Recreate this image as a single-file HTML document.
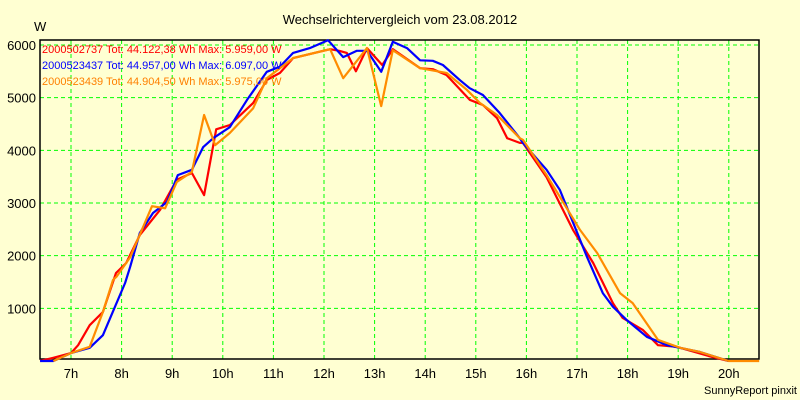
<!DOCTYPE html>
<html><head><meta charset="utf-8"><style>
body{margin:0;background:#ffffd2;}
svg{display:block;font-family:"Liberation Sans",sans-serif;}
</style></head><body>
<svg id="c" width="800" height="400">
<rect x="0" y="0" width="800" height="400" fill="#ffffd2"/>
<text x="400" y="24" text-anchor="middle" font-size="13">Wechselrichtervergleich vom 23.08.2012</text>
<text x="34" y="31" font-size="13">W</text>
<text x="797" y="394" text-anchor="end" font-size="11">SunnyReport pinxit</text>
<g id="grid"></g>
<g id="axes"></g>
<g id="series"></g>
<g id="legend"></g>
</svg>
<script>
const hourTicks=[7,8,9,10,11,12,13,14,15,16,17,18,19,20];
const valueTicks=[1000,2000,3000,4000,5000,6000];
const redTimes=[6.39,6.65,7.0,7.14,7.37,7.63,7.89,8.09,8.36,8.76,9.09,9.39,9.63,9.87,10.14,10.6,10.87,11.13,11.39,12.12,12.3,12.45,12.63,12.85,13.15,13.36,13.9,14.15,14.42,14.88,15.14,15.42,15.62,15.87,15.93,16.4,16.92,17.32,17.71,17.9,18.3,18.6,18.97,19.6,20.0];
const redValues=[0,60,150,300,680,930,1670,1860,2390,2870,3440,3570,3150,4400,4480,4900,5335,5470,5750,5920,5890,5850,5500,5940,5620,5920,5560,5540,5430,4960,4860,4610,4230,4140,4140,3490,2490,1860,1100,820,590,300,270,95,0];
const blueTimes=[6.39,6.65,7.0,7.37,7.63,7.87,8.07,8.17,8.36,8.62,8.9,9.11,9.39,9.61,9.81,10.14,10.48,10.87,11.13,11.39,11.72,12.08,12.38,12.65,12.85,13.13,13.36,13.64,13.9,14.15,14.35,14.69,14.88,15.14,15.47,15.87,15.93,16.4,16.66,17.2,17.51,17.71,17.98,18.38,18.78,19.43,20.0];
const blueValues=[0,0,150,250,490,1030,1480,1790,2430,2810,3020,3530,3630,4060,4230,4440,4960,5490,5590,5850,5940,6090,5770,5890,5890,5490,6060,5940,5710,5700,5620,5330,5180,5050,4710,4230,4140,3630,3250,1970,1290,1030,780,460,300,170,0];
const orangeTimes=[6.65,7.0,7.37,7.63,7.83,7.9,8.17,8.6,8.86,9.09,9.39,9.63,9.85,10.14,10.6,10.87,11.39,12.12,12.38,12.85,13.13,13.36,13.9,14.42,14.82,15.08,15.42,15.87,15.93,16.4,17.06,17.4,17.85,18.1,18.6,19.04,19.43,20.0,20.6];
const orangeValues=[0,150,270,930,1540,1600,1970,2940,2900,3400,3590,4670,4100,4330,4800,5370,5750,5920,5370,5940,4840,5900,5560,5470,5150,4900,4670,4230,4200,3530,2490,2050,1290,1100,400,250,170,0,0];
const legendLabels=["2000502737 Tot: 44.122,38 Wh Max: 5.959,00 W","2000523437 Tot: 44.957,00 Wh Max: 6.097,00 W","2000523439 Tot: 44.904,50 Wh Max: 5.975,00 W"];
const L=40,R=759,T=40,B=359;
const xs=h=>71+(h-7)*50.6;
const ys=v=>361-v*0.05267;
const NS="http://www.w3.org/2000/svg";
function mk(tag,parent,attrs){const e=document.createElementNS(NS,tag);for(const k in attrs)e.setAttribute(k,attrs[k]);parent.appendChild(e);return e;}
const grid=document.getElementById('grid'),axes=document.getElementById('axes'),ser=document.getElementById('series'),leg=document.getElementById('legend');
hourTicks.forEach(h=>{
 const l=mk('line',grid,{x1:xs(h),x2:xs(h),y1:T,y2:B,stroke:'#00ff00','stroke-dasharray':'4,3'});
 
 
 const t=mk('text',axes,{x:xs(h),y:378,'text-anchor':'middle','font-size':'13'});
 t.textContent=h+'h';
 
 
});
valueTicks.forEach(v=>{
 const l=mk('line',grid,{x1:L,x2:R,y1:ys(v),y2:ys(v),stroke:'#00ff00','stroke-dasharray':'4,3'});
 
 
 const t=mk('text',axes,{x:36,y:ys(v)+5,'text-anchor':'end','font-size':'13'});
 t.textContent=v;
 
 
});
const fr=mk('rect',axes,{x:L,y:T,width:R-L,height:B-T,fill:'none',stroke:'#000','stroke-width':'1.5'});


function line(times,vals,color,name){
 const p=mk('polyline',ser,{points:times.map((t,i)=>xs(t).toFixed(1)+','+ys(vals[i]).toFixed(1)).join(' '),fill:'none',stroke:color,'stroke-width':'2.2','stroke-linejoin':'round'});
 
 
}
line(redTimes,redValues,'#ff0000','series-2000502737');
line(blueTimes,blueValues,'#0000ff','series-2000523437');
line(orangeTimes,orangeValues,'#ff8c00','series-2000523439');
const cols=['#ff0000','#0000ff','#ff8000'];
legendLabels.forEach((s,i)=>{
 const t=mk('text',leg,{x:42,y:53+i*16,'font-size':'11',fill:cols[i]});
 t.textContent=s;
 
 
});
</script>
</body></html>
